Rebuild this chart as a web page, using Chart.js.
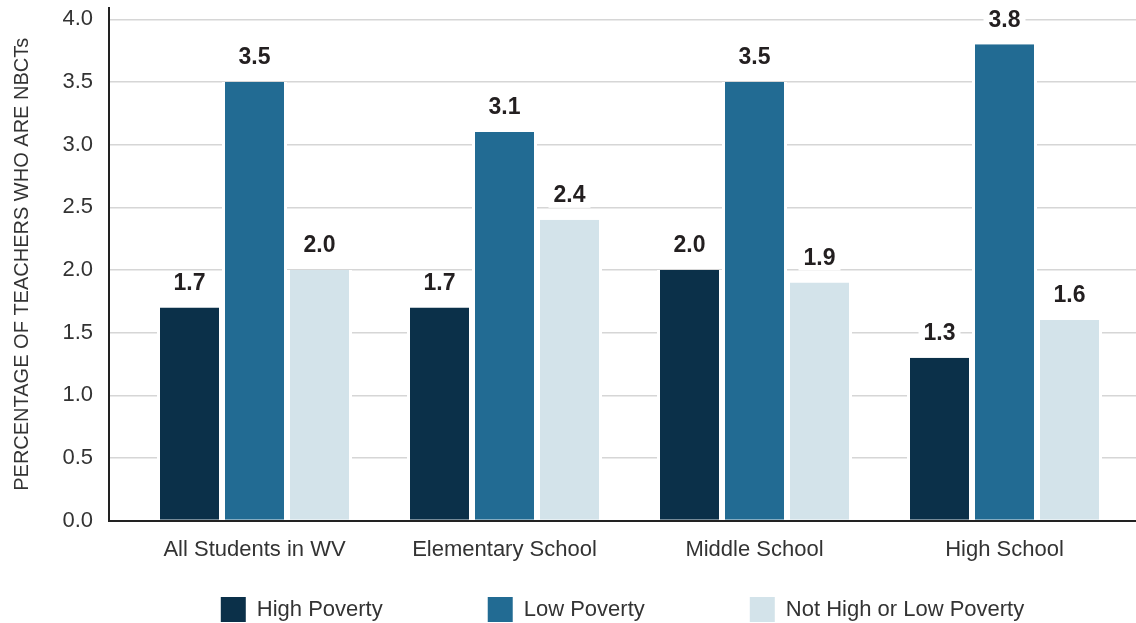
<!DOCTYPE html>
<html>
<head>
<meta charset="utf-8">
<script src="https://cdn.jsdelivr.net/npm/chart.js@4.4.1/dist/chart.umd.min.js"></script>
<style>
  html, body { margin: 0; padding: 0; background: #fff; }
  #wrap { width: 1136px; height: 623px; }
</style>
</head>
<body>
<div id="wrap"><canvas id="chart"></canvas></div>
<script>
const categories = ['All Students in WV', 'Elementary School', 'Middle School', 'High School'];
const seriesNames = ['High Poverty', 'Low Poverty', 'Not High or Low Poverty'];
const highPoverty = [1.7, 1.7, 2.0, 1.3];
const lowPoverty = [3.5, 3.1, 3.5, 3.8];
const notHighOrLow = [2.0, 2.4, 1.9, 1.6];
const yTicks = [0, 0.5, 1.0, 1.5, 2.0, 2.5, 3.0, 3.5, 4.0];

const colors = ['#0b3049', '#226b93', '#d3e3ea'];
const FONT = '"Liberation Sans", Arial, sans-serif';

function toPoints(values) {
    return values.map((v, i) => ({ x: i, y: v }));
}

// white box + bold value above every bar
const valueLabels = {
    id: 'valueLabels',
    afterDatasetsDraw(chart) {
        const ctx = chart.ctx;
        ctx.save();
        ctx.font = 'bold 23px ' + FONT;
        ctx.textAlign = 'center';
        ctx.textBaseline = 'middle';
        chart.data.datasets.forEach((ds, i) => {
            chart.getDatasetMeta(i).data.forEach((bar, j) => {
                const text = ds.data[j].y.toFixed(1);
                const w = ctx.measureText(text).width + 10;
                const y = bar.y - 24;
                ctx.fillStyle = '#fff';
                ctx.fillRect(bar.x - w / 2, y - 12, w, 24);
                ctx.fillStyle = '#231f20';
                ctx.fillText(text, bar.x, y);
            });
        });
        ctx.restore();
    }
};

// wide legend spacing: keep reserved height small, draw it lower down
const legendPlace = {
    id: 'legendPlace',
    afterLayout(chart) {
        const l = chart.legend;
        const lab = l.options.labels;
        l.top = chart.height - lab.padding - lab.boxHeight - 1;
    }
};

const CHART = document.querySelector('#chart');

const data = {
    datasets: [highPoverty, lowPoverty, notHighOrLow].map((values, k) => ({
        label: seriesNames[k],
        data: toPoints(values),
        backgroundColor: colors[k],
        borderColor: '#fff',
        borderWidth: { left: 3, right: 3, top: 0, bottom: 0 },
        categoryPercentage: 0.78,
        barPercentage: 1.0
    }))
};

new Chart(CHART, {
    type: 'bar',
    data: data,
    plugins: [valueLabels, legendPlace],
    options: {
        responsive: true,
        maintainAspectRatio: false,
        animation: false,
        layout: { padding: { top: 8, left: 0, right: 0, bottom: 0 } },
        plugins: {
            tooltip: { enabled: false },
            legend: {
                position: 'bottom',
                fullSize: false,
                maxHeight: 44,
                labels: {
                    boxWidth: 25,
                    boxHeight: 25,
                    padding: 105,
                    color: '#333',
                    font: { family: FONT, size: 22 },
                    generateLabels(chart) {
                        return Chart.defaults.plugins.legend.labels.generateLabels(chart)
                            .map(item => ({ ...item, lineWidth: 0 }));
                    }
                }
            }
        },
        scales: {
            x: {
                type: 'linear',
                offset: false,
                min: -0.582,
                max: 3.526,
                afterBuildTicks(scale) {
                    scale.ticks = categories.map((c, i) => ({ value: i }));
                },
                grid: { display: false, drawTicks: false },
                border: { display: true, color: '#222', width: 2 },
                ticks: {
                    padding: 16,
                    maxRotation: 0,
                    autoSkip: false,
                    color: '#333',
                    font: { family: FONT, size: 22 },
                    callback: (v) => categories[v]
                }
            },
            y: {
                min: 0,
                max: 4.09,
                afterBuildTicks(scale) {
                    scale.ticks = yTicks.map(v => ({ value: v }));
                },
                afterFit(scale) {
                    scale.width = 109;
                    scale.paddingTop = 0;
                    scale.paddingBottom = 0;
                },
                grid: { color: '#d6d6d6', lineWidth: 1.5, drawTicks: false },
                border: { display: true, color: '#222', width: 2 },
                ticks: {
                    padding: 16,
                    color: '#333',
                    font: { family: FONT, size: 22 },
                    callback: (v) => v.toFixed(1)
                },
                title: {
                    display: true,
                    text: 'PERCENTAGE OF TEACHERS WHO ARE NBCTs',
                    color: '#333',
                    font: { family: FONT, size: 20 },
                    padding: { top: 10, bottom: 0 }
                }
            }
        }
    }
});
</script>
</body>
</html>
